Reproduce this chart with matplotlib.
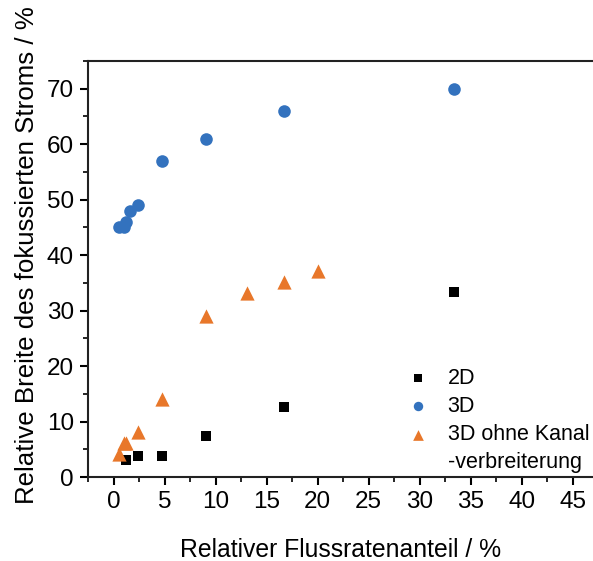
import matplotlib
matplotlib.use("Agg")
import matplotlib.pyplot as plt
from matplotlib.lines import Line2D
from matplotlib.ticker import MultipleLocator

plt.rcParams['font.family'] = ['Liberation Sans', 'DejaVu Sans']

# Relative flow-rate share (%) and relative width of the focused stream (%)
x_2d = [1.23, 2.44, 4.76, 9.09, 16.67, 33.33]
y_2d = [3.0, 3.7, 3.8, 7.4, 12.7, 33.3]

x_3d = [0.5, 0.99, 1.23, 1.6, 2.44, 4.76, 9.09, 16.67, 33.33]
y_3d = [45, 45, 46, 48, 49, 57, 61, 66, 70]

x_3d_nk = [0.5, 0.99, 1.23, 2.44, 4.76, 9.09, 13.04, 16.67, 20.0]
y_3d_nk = [4.1, 6.1, 6.1, 8.1, 14.1, 29.1, 33.1, 35.1, 37.2]

labels = ["2D", "3D", "3D ohne Kanal", "-verbreiterung"]
colors = ["#000000", "#3372BE", "#E8772A"]

fig = plt.figure(figsize=(5.93, 5.61), dpi=100)
ax = fig.add_axes([88/593, 1 - 477/561, 1 - 88/593, (477 - 61)/561])

h1 = ax.scatter(x_2d, y_2d, marker='s', s=58, color=colors[0], linewidths=0, zorder=3)
h2 = ax.scatter(x_3d, y_3d, marker='o', s=82, color=colors[1], linewidths=0, zorder=3)
h3 = ax.scatter(x_3d_nk, y_3d_nk, marker='^', s=105, color=colors[2], linewidths=0, zorder=3)
h4 = Line2D([], [], linestyle='none', marker=None)

ax.set_xlim(-2.5, 47.0)
ax.set_ylim(0, 75)
ax.xaxis.set_major_locator(MultipleLocator(5))
ax.xaxis.set_minor_locator(MultipleLocator(2.5))
ax.yaxis.set_major_locator(MultipleLocator(10))
ax.yaxis.set_minor_locator(MultipleLocator(5))

ax.spines['right'].set_visible(False)
for s in ['left', 'bottom', 'top']:
    ax.spines[s].set_linewidth(1.5)
    ax.spines[s].set_color('#222222')

ax.tick_params(which='major', direction='out', length=6, width=1.5, labelsize=17.5, pad=4)
ax.tick_params(which='minor', direction='out', length=3.5, width=1.2)
ax.tick_params(top=False, right=False, which='both')

ax.set_xlabel("Relativer Flussratenanteil / %", fontsize=17.8, labelpad=18)
ax.set_ylabel("Relative Breite des fokussierten Stroms / %", fontsize=18.6)
ax.yaxis.set_label_coords(-0.098, 0.534)

leg = ax.legend([h1, h2, h3, h4], labels,
                loc='upper left', bbox_to_anchor=(396/593, 1 - 368/561),
                bbox_transform=fig.transFigure, frameon=False,
                fontsize=15.5, handletextpad=0.4, labelspacing=0.33,
                borderaxespad=0.0, borderpad=0.0, markerscale=0.75)

fig.savefig("out.png", dpi=100)
